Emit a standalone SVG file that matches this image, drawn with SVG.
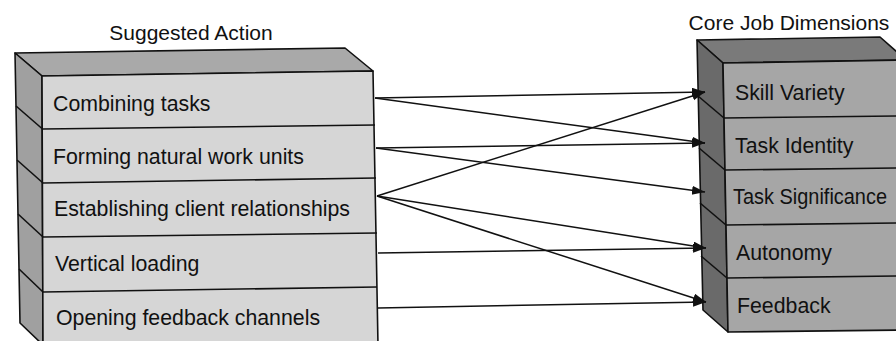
<svg xmlns="http://www.w3.org/2000/svg" width="896" height="341" viewBox="0 0 896 341">
  <style>
    .edge { stroke: #111; stroke-width: 1.6; stroke-linejoin: round; }
    .label { font-family: "Liberation Sans", Arial, sans-serif; font-size: 21.3px; fill: #111; }
    .title { font-family: "Liberation Sans", Arial, sans-serif; font-size: 21px; fill: #111; text-anchor: middle; }
    .conn { stroke: #111; stroke-width: 1.5; fill: none; marker-end: url(#arrow); }
    .lightFront { fill: #d6d6d6; }
    .lightTop { fill: #a9a9a9; }
    .lightSide { fill: #a0a0a0; }
    .darkFront { fill: #a6a6a6; }
    .darkTop { fill: #7a7a7a; }
    .darkSide { fill: #6a6a6a; }
  </style>
  <defs>
    <marker id="arrow" markerUnits="userSpaceOnUse" markerWidth="14" markerHeight="10" refX="13" refY="4.5" orient="auto">
      <path d="M0,0 L13,4.5 L0,9 Z" fill="#111"/>
    </marker>
  </defs>

  <rect width="896" height="341" fill="#fff"/>

  <!-- column headings -->
  <text class="title" x="191" y="40">Suggested Action</text>
  <text class="title" x="789" y="30">Core Job Dimensions</text>

  <!-- left stack: suggested actions -->
  <g id="actions-block">
    <polygon class="lightTop edge" points="15,53 345,48 373,71 42,76"/>
    <polygon class="lightSide edge" points="15,53 42,76 43,345 20,323"/>
    <polygon class="lightFront edge" points="42,76 373,71 378,345 43,345"/>
  </g>
  <g id="action-combining">
    <text class="label" x="53" y="111">Combining tasks</text>
  </g>
  <g id="action-forming">
    <line class="edge" x1="42.5" y1="129" x2="375" y2="125"/>
    <line class="edge" x1="16" y1="106" x2="42.5" y2="129"/>
    <text class="label" x="53" y="164">Forming natural work units</text>
  </g>
  <g id="action-establishing">
    <line class="edge" x1="43" y1="183" x2="376" y2="178"/>
    <line class="edge" x1="17" y1="160" x2="43" y2="183"/>
    <text class="label" x="54" y="216">Establishing client relationships</text>
  </g>
  <g id="action-vertical">
    <line class="edge" x1="43" y1="237" x2="377" y2="233"/>
    <line class="edge" x1="18" y1="214" x2="43" y2="237"/>
    <text class="label" x="55" y="271">Vertical loading</text>
  </g>
  <g id="action-feedback">
    <line class="edge" x1="43" y1="292" x2="377" y2="287"/>
    <line class="edge" x1="19" y1="269" x2="43" y2="292"/>
    <text class="label" x="56" y="325">Opening feedback channels</text>
  </g>

  <!-- right stack: core job dimensions -->
  <g id="dimensions-block">
    <polygon class="darkTop edge" points="697,40 880,37 906,60 723,63"/>
    <polygon class="darkSide edge" points="697,40 723,63 728,332 703,310"/>
    <polygon class="darkFront edge" points="723,63 910,60 910,330 728,332"/>
  </g>
  <g id="dim-skill">
    <text class="label" x="735" y="100">Skill Variety</text>
  </g>
  <g id="dim-identity">
    <line class="edge" x1="724" y1="118" x2="900" y2="116"/>
    <line class="edge" x1="698" y1="96" x2="724" y2="118"/>
    <text class="label" x="735" y="153">Task Identity</text>
  </g>
  <g id="dim-significance">
    <line class="edge" x1="725" y1="170" x2="900" y2="168"/>
    <line class="edge" x1="699" y1="148" x2="725" y2="170"/>
    <text class="label" x="733" y="204" textLength="154" lengthAdjust="spacingAndGlyphs">Task Significance</text>
  </g>
  <g id="dim-autonomy">
    <line class="edge" x1="726" y1="225" x2="900" y2="223"/>
    <line class="edge" x1="700" y1="203" x2="726" y2="225"/>
    <text class="label" x="736" y="260">Autonomy</text>
  </g>
  <g id="dim-feedback">
    <line class="edge" x1="727" y1="278" x2="900" y2="276"/>
    <line class="edge" x1="701" y1="256" x2="727" y2="278"/>
    <text class="label" x="737" y="313">Feedback</text>
  </g>

  <!-- connectors -->
  <g id="connectors">
    <line class="conn" x1="375" y1="98" x2="705" y2="92"/>
    <line class="conn" x1="375" y1="98" x2="705" y2="143"/>
    <line class="conn" x1="376" y1="148" x2="705" y2="143"/>
    <line class="conn" x1="376" y1="148" x2="705" y2="192"/>
    <line class="conn" x1="377" y1="196" x2="705" y2="92"/>
    <line class="conn" x1="377" y1="196" x2="706" y2="248"/>
    <line class="conn" x1="377" y1="196" x2="706" y2="302"/>
    <line class="conn" x1="378" y1="253" x2="706" y2="248"/>
    <line class="conn" x1="378" y1="308" x2="706" y2="302"/>
  </g>
</svg>
